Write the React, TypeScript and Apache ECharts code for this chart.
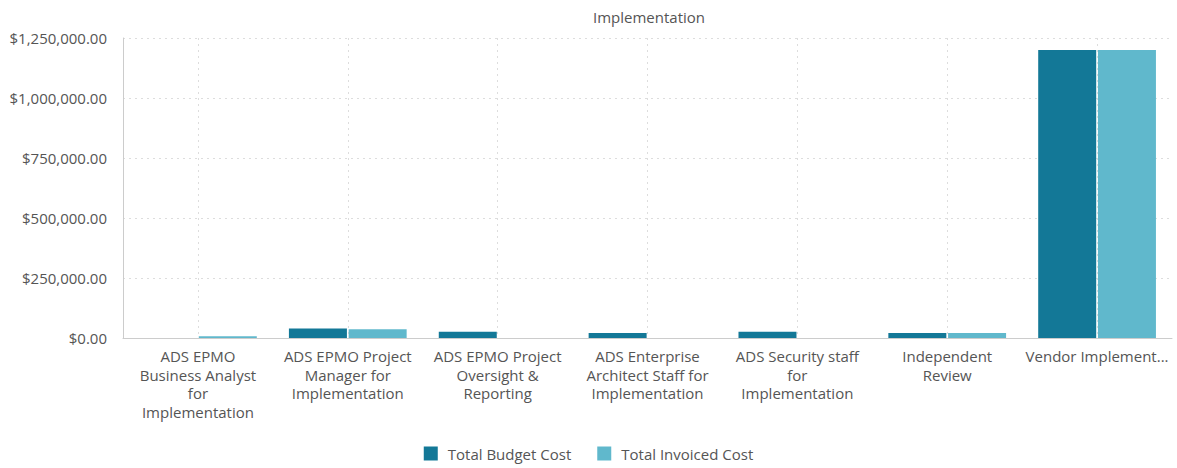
import React, { useEffect, useRef } from "react";
import * as echarts from "echarts";

const title = "Implementation";
const categories = [
  "ADS EPMO Business Analyst for Implementation",
  "ADS EPMO Project Manager for Implementation",
  "ADS EPMO Project Oversight & Reporting",
  "ADS Enterprise Architect Staff for Implementation",
  "ADS Security staff for Implementation",
  "Independent Review",
  "Vendor Implementation",
];
const tickLabels = [
  "ADS EPMO\nBusiness Analyst\nfor\nImplementation",
  "ADS EPMO Project\nManager for\nImplementation",
  "ADS EPMO Project\nOversight &\nReporting",
  "ADS Enterprise\nArchitect Staff for\nImplementation",
  "ADS Security staff\nfor\nImplementation",
  "Independent\nReview",
  "Vendor Implement...",
];
const budgetCost = [0, 40000, 26000, 21000, 26000, 21000, 1200000];
const invoicedCost = [7000, 36000, 0, 0, 0, 21000, 1200000];
const seriesNames = ["Total Budget Cost", "Total Invoiced Cost"];
const colors = ["#137897", "#60b8cc"];

const FONT = "'Open Sans', sans-serif";
const TEXT_COLOR = "#555";

function fmtMoney(v: number) {
  return "$" + v.toLocaleString("en-US", { minimumFractionDigits: 2, maximumFractionDigits: 2 });
}

export default function App() {
  const ref = useRef<HTMLDivElement>(null);
  useEffect(() => {
    document.body.style.margin = "0";
    const chart = echarts.init(ref.current!, undefined, { renderer: "svg" });
    chart.setOption({
      animation: false,
      textStyle: { fontFamily: FONT },
      title: {
        text: title,
        left: 644,
        textAlign: "center",
        top: 4,
        textStyle: { fontFamily: FONT, fontSize: 15, fontWeight: "normal", color: TEXT_COLOR },
      },
      legend: {
        bottom: 2,
        left: "center",
        itemWidth: 14,
        itemHeight: 14,
        itemGap: 26,
        icon: "rect",
        textStyle: { fontFamily: FONT, fontSize: 15, color: TEXT_COLOR, padding: [0, 0, 0, 5] },
        data: seriesNames,
      },
      grid: { left: 123, right: 5, top: 38, bottom: 130 },
      xAxis: {
        type: "category",
        data: categories,
        axisLine: { lineStyle: { color: "#ccc" } },
        axisTick: { show: false },
        splitLine: {
          show: true,
          alignWithLabel: true,
          lineStyle: { type: [2, 4], color: "#ddd" },
        },
        axisLabel: {
          interval: 0,
          margin: 9,
          lineHeight: 18.5,
          fontFamily: FONT,
          fontSize: 15,
          color: TEXT_COLOR,
          formatter: (_v: string, i: number) => tickLabels[i],
        },
      },
      yAxis: {
        type: "value",
        min: 0,
        max: 1250000,
        interval: 250000,
        axisLine: { show: true, lineStyle: { color: "#ccc" } },
        axisTick: { show: false },
        splitLine: { lineStyle: { type: [2, 4], color: "#ddd" } },
        axisLabel: {
          margin: 16,
          fontFamily: FONT,
          fontSize: 15,
          color: TEXT_COLOR,
          formatter: (v: number) => fmtMoney(v),
        },
      },
      series: [
        {
          name: seriesNames[0],
          type: "bar",
          data: budgetCost,
          barWidth: 58,
          barGap: "3%",
          itemStyle: { color: colors[0] },
        },
        {
          name: seriesNames[1],
          type: "bar",
          data: invoicedCost,
          barWidth: 58,
          barGap: "3%",
          itemStyle: { color: colors[1] },
        },
      ],
    });
    return () => chart.dispose();
  }, []);
  return <div ref={ref} style={{ width: 1177, height: 468 }} />;
}
